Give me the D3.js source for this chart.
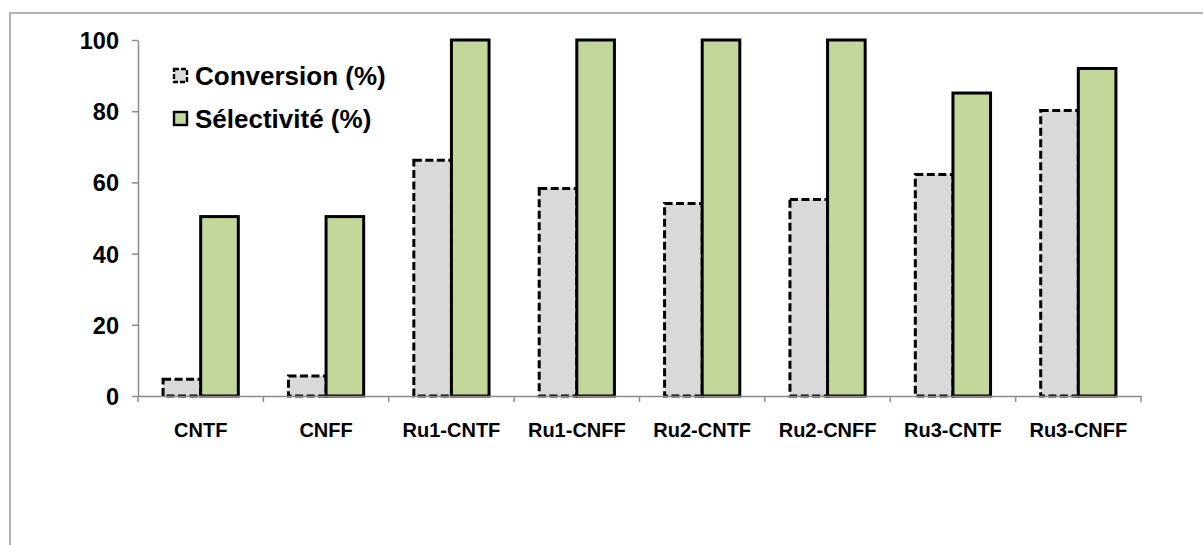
<!DOCTYPE html>
<html><head><meta charset="utf-8">
<script src="https://cdn.jsdelivr.net/npm/d3@7"></script>
<style>
html,body{margin:0;padding:0;background:#fff;}
svg{display:block;}
text{font-family:"Liberation Sans",Arial,sans-serif;font-weight:bold;fill:#000;}
</style></head>
<body>
<svg id="chart" width="1203" height="545"></svg>
<script>
const categories = ["CNTF","CNFF","Ru1-CNTF","Ru1-CNFF","Ru2-CNTF","Ru2-CNFF","Ru3-CNTF","Ru3-CNFF"];
const seriesNames = ["Conversion (%)","Sélectivité (%)"];
const conversion = [4.7,5.6,66.2,58.3,54.1,55.2,62.2,80.2];
const selectivite = [50.4,50.4,100,100,100,100,85.1,92.0];
const yTicks = [0,20,40,60,80,100];

(function(){
const svg = d3.select("#chart");
// outer chart frame
svg.append("rect").attr("x",10).attr("y",13).attr("width",1400).attr("height",1000)
  .attr("fill","none").attr("stroke","#9a9a9a").attr("stroke-width",1.5);

const pLeft=138, pRight=1141, pTop=40, pBottom=396;
const x = d3.scaleBand().domain(categories).range([pLeft,pRight]).padding(0);
const bw = x.bandwidth();
const xs = d3.scaleBand().domain(seriesNames).range([bw*0.2,bw*0.8]).padding(0);
const y = d3.scaleLinear().domain([0,100]).range([pBottom,pTop]);

const fills = ["#d9d9d9","#c4d79b"];
const dashes = ["8,3.5",null];
const values = [conversion, selectivite];

seriesNames.forEach((s,si)=>{
  svg.append("g").selectAll("rect").data(categories).join("rect")
    .attr("x",d=>x(d)+xs(s))
    .attr("y",(d,i)=>y(values[si][i]))
    .attr("width",xs.bandwidth())
    .attr("height",(d,i)=>y(0)-y(values[si][i]))
    .attr("fill",fills[si])
    .attr("stroke","#000")
    .attr("stroke-width",3)
    .attr("stroke-dasharray",dashes[si]);
});

// y axis
const yAxis = svg.append("g").attr("transform",`translate(${pLeft},0)`)
  .call(d3.axisLeft(y).tickValues(yTicks).tickSize(6).tickPadding(13).tickSizeOuter(0));
yAxis.select(".domain").attr("stroke","#8c8c8c").attr("stroke-width",1.5);
yAxis.selectAll(".tick line").attr("stroke","#8c8c8c").attr("stroke-width",1.5);
yAxis.selectAll(".tick text").attr("font-size",23.5).attr("font-family","Liberation Sans, Arial, sans-serif").attr("font-weight","bold").attr("dy","0.36em");

// x axis
const xAxis = svg.append("g").attr("transform",`translate(0,${pBottom})`)
  .call(d3.axisBottom(x).tickSize(0).tickPadding(27).tickSizeOuter(0));
xAxis.select(".domain").attr("stroke","#8c8c8c").attr("stroke-width",1.5);
xAxis.selectAll(".tick text").attr("font-size",20).attr("font-family","Liberation Sans, Arial, sans-serif").attr("font-weight","bold");
const bounds = categories.map(c=>x(c)).concat([x(categories[categories.length-1])+bw]);
xAxis.append("g").selectAll("line").data(bounds).join("line")
  .attr("x1",d=>d).attr("x2",d=>d).attr("y1",0).attr("y2",6)
  .attr("stroke","#8c8c8c").attr("stroke-width",1.5);

// legend
const legend = svg.append("g");
seriesNames.forEach((s,si)=>{
  const ly = 69 + si*43;
  legend.append("rect").attr("x",174).attr("y",ly).attr("width",13).attr("height",13)
    .attr("fill",fills[si]).attr("stroke","#000").attr("stroke-width",2.4)
    .attr("stroke-dasharray", si===0 ? "5,2" : null);
  legend.append("text").attr("x",195).attr("y",ly+16).attr("font-size",26).text(s);
});
})();
</script>
</body></html>
